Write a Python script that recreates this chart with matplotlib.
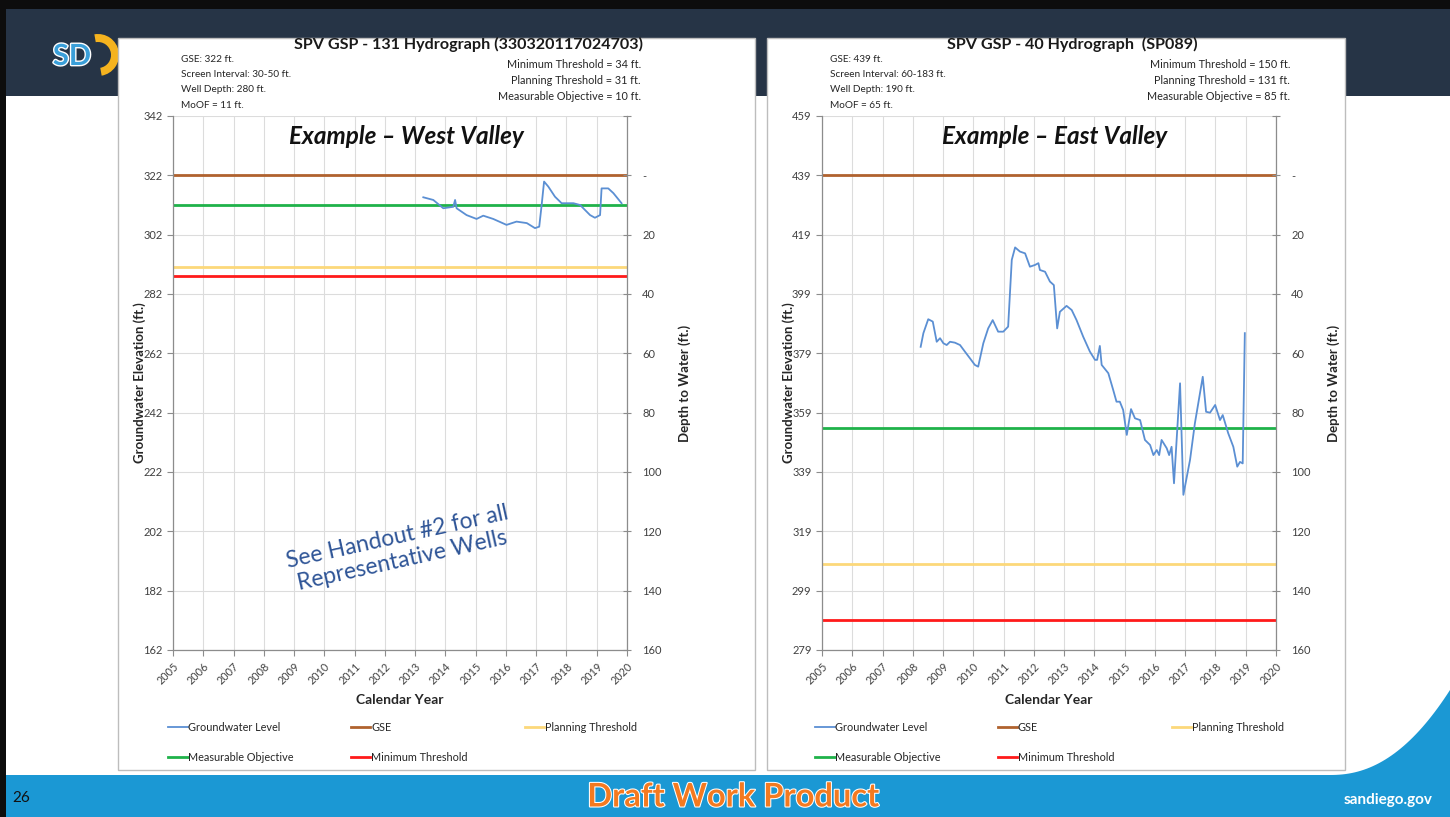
import matplotlib
matplotlib.use("Agg")
import matplotlib.pyplot as plt
from matplotlib.patches import Rectangle, Wedge, Polygon
import matplotlib.patheffects as pe
import numpy as np

plt.rcParams['font.family'] = ['Lato', 'DejaVu Sans']

# ---------------- DATA ----------------
years = list(range(2005, 2021))

# West Valley (SPV GSP - 131)
west_title = "SPV GSP - 131 Hydrograph (330320117024703)"
west_info_left = ["GSE: 322 ft.", "Screen Interval: 30-50 ft.", "Well Depth: 280 ft.", "MoOF = 11 ft."]
west_info_right = ["Minimum Threshold = 34 ft.", "Planning Threshold = 31 ft.", "Measurable Objective = 10 ft."]
west_gse = 322
west_mo = 312
west_pt = 291
west_mt = 288
west_ylim = (162, 342)
west_t = [2013.27, 2013.60, 2013.93, 2014.26, 2014.32, 2014.37, 2014.70, 2015.03, 2015.25,
          2015.58, 2016.02, 2016.35, 2016.69, 2016.96, 2017.10, 2017.18, 2017.26, 2017.40,
          2017.62, 2017.84, 2018.23, 2018.45, 2018.78, 2018.94, 2019.11, 2019.16, 2019.38,
          2019.55, 2019.82]
west_gw = [314.6, 313.7, 310.9, 311.4, 313.7, 310.9, 308.6, 307.3, 308.4,
           307.3, 305.3, 306.4, 305.9, 304.2, 304.7, 312.0, 319.9, 318.2,
           314.8, 312.6, 312.6, 312.0, 308.6, 307.7, 308.6, 317.6, 317.6,
           316.0, 312.6]

# East Valley (SPV GSP - 40)
east_title = "SPV GSP - 40 Hydrograph  (SP089)"
east_info_left = ["GSE: 439 ft.", "Screen Interval: 60-183 ft.", "Well Depth: 190 ft.", "MoOF = 65 ft."]
east_info_right = ["Minimum Threshold = 150 ft.", "Planning Threshold = 131 ft.", "Measurable Objective = 85 ft."]
east_gse = 439
east_mo = 354
east_pt = 308
east_mt = 289
east_ylim = (279, 459)
east_t = [2008.26, 2008.35, 2008.51, 2008.66, 2008.79, 2008.90, 2009.01, 2009.12, 2009.23,
          2009.39, 2009.56, 2009.72, 2009.89, 2010.05, 2010.16, 2010.33, 2010.49, 2010.64,
          2010.82, 2010.99, 2011.15, 2011.27, 2011.38, 2011.54, 2011.71, 2011.87, 2012.04,
          2012.15, 2012.20, 2012.37, 2012.53, 2012.66, 2012.77, 2012.86, 2013.08, 2013.25,
          2013.41, 2013.63, 2013.85, 2014.02, 2014.09, 2014.18, 2014.24, 2014.46, 2014.62,
          2014.73, 2014.84, 2014.95, 2015.07, 2015.21, 2015.34, 2015.51, 2015.67, 2015.84,
          2015.95, 2016.06, 2016.14, 2016.22, 2016.39, 2016.47, 2016.55, 2016.63, 2016.83,
          2016.94, 2017.16, 2017.32, 2017.58, 2017.69, 2017.82, 2017.99, 2018.15, 2018.24,
          2018.42, 2018.59, 2018.72, 2018.81, 2018.90, 2018.97]
east_gw = [381.2, 385.8, 390.5, 389.7, 382.9, 384.1, 382.4, 381.8, 382.9,
           382.6, 381.8, 379.6, 377.3, 375.1, 374.5, 382.4, 387.4, 390.2,
           386.3, 386.3, 388.0, 410.5, 414.7, 413.3, 412.7, 408.2, 408.8,
           409.4, 407.1, 406.5, 403.2, 402.0, 387.4, 393.0, 395.0, 393.6,
           390.2, 384.6, 379.6, 376.8, 376.8, 381.5, 375.1, 372.3, 366.7,
           362.7, 362.7, 359.9, 351.5, 360.2, 357.1, 356.5, 349.8, 348.1,
           344.7, 346.4, 344.7, 349.8, 347.0, 344.7, 347.5, 335.2, 368.9,
           331.3, 343.1, 355.4, 371.1, 359.3, 359.0, 361.6, 356.5, 358.2,
           352.1, 347.5, 340.8, 342.4, 341.9, 385.8]

depth_ticks = [-20, 0, 20, 40, 60, 80, 100, 120, 140, 160]
depth_labels = ["", "-", "20", "40", "60", "80", "100", "120", "140", "160"]

legend_labels = ["Groundwater Level", "GSE", "Planning Threshold", "Measurable Objective", "Minimum Threshold"]

# ---------------- STYLE ----------------
W, H = 1450, 817
def fx(x): return x / W
def fy(y): return 1 - y / H

C_GW = "#5b8fd3"
C_GSE = "#b0622e"
C_PT = "#fcd87a"
C_MO = "#1fb24a"
C_MT = "#ff1a1a"
C_GRID = "#dcdcdc"
C_AX = "#8c8c8c"

fig = plt.figure(figsize=(14.5, 8.17), dpi=100)
fig.patch.set_facecolor("white")

def frect(x0, y0, x1, y1, **kw):
    r = Rectangle((fx(x0), fy(y1)), (x1 - x0) / W, (y1 - y0) / H, transform=fig.transFigure, **kw)
    fig.patches.append(r)
    return r

# slide decorations
frect(0, 0, 1450, 9, facecolor="#0d0d0d", edgecolor="none", zorder=0)
frect(0, 0, 6, 817, facecolor="#0d0d0d", edgecolor="none", zorder=0)
frect(6, 9, 1450, 96, facecolor="#263446", edgecolor="none", zorder=0)
frect(6, 775, 1450, 817, facecolor="#1b98d4", edgecolor="none", zorder=0)
# swoosh bottom right
sx = np.linspace(1330, 1450, 40)
sy = 775 - ((sx - 1330) / 120.0) ** 2.2 * 85
pts = [(fx(a), fy(b)) for a, b in zip(sx, sy)] + [(fx(1450), fy(775))]
fig.patches.append(Polygon(pts, closed=True, transform=fig.transFigure,
                           facecolor="#1b98d4", edgecolor="none", zorder=0))

# logo
fig.text(fx(72), fy(57), "SD", fontsize=21, fontweight="bold", color="#3a9fd9",
         ha="center", va="center",
         path_effects=[pe.withStroke(linewidth=2, foreground="white")], zorder=2)
fig.patches.append(Wedge((0.98, (817 - 55) / 100.0), 0.21, -80, 100, width=0.08,
                         transform=fig.dpi_scale_trans, facecolor="#f5b31f", edgecolor="none", zorder=0.5))

# panels
frect(118, 38, 755, 770, facecolor="white", edgecolor="#bdbdbd", linewidth=1.0, zorder=1)
frect(767, 38, 1345, 770, facecolor="white", edgecolor="#bdbdbd", linewidth=1.0, zorder=1)

# footer texts
fig.text(fx(12), fy(798), "26", fontsize=11, color="#111111", ha="left", va="center")
fig.text(fx(733), fy(797), "Draft Work Product", fontsize=23.5, fontweight="bold", color="#f47a20",
         ha="center", va="center", path_effects=[pe.withStroke(linewidth=1.5, foreground="white")])
fig.text(fx(1432), fy(800), "sandiego.gov", fontsize=11, fontweight="bold", color="white",
         ha="right", va="center")


def draw_chart(axx0, axx1, title, title_x, info_l, info_l_x, info_r, info_r_x, example,
               ex_x, ylim, gse, mo, pt, mt, t, gw, legx):
    ax = fig.add_axes([fx(axx0), fy(650), (axx1 - axx0) / W, (650 - 116) / H])
    ax.set_zorder(3)
    ax.set_facecolor("none")
    ax.set_xlim(2005, 2020)
    ax.set_ylim(*ylim)
    yt = list(range(ylim[0], ylim[1] + 1, 20))
    ax.set_yticks(yt)
    ax.set_yticklabels([str(v) for v in yt], fontsize=8, color="#404040")
    ax.set_xticks(years)
    ax.set_xticklabels([str(y) for y in years], fontsize=7.8, rotation=45, ha="right",
                       rotation_mode="anchor", color="#404040")
    ax.grid(True, color=C_GRID, linewidth=0.8)
    ax.set_axisbelow(True)
    for s in ["top", "right"]:
        ax.spines[s].set_visible(False)
    for s in ["left", "bottom"]:
        ax.spines[s].set_color(C_AX)
        ax.spines[s].set_linewidth(0.9)
    ax.tick_params(axis="both", color=C_AX, length=4, width=0.8)

    h_gse = ax.axhline(gse, color=C_GSE, linewidth=2.0, zorder=2)
    h_mo = ax.axhline(mo, color=C_MO, linewidth=2.0, zorder=2)
    h_pt = ax.axhline(pt, color=C_PT, linewidth=2.0, zorder=2)
    h_mt = ax.axhline(mt, color=C_MT, linewidth=2.0, zorder=2)
    h_gw, = ax.plot(t, gw, color=C_GW, linewidth=1.3, zorder=3)

    ax.set_ylabel("Groundwater Elevation (ft.)", fontsize=9.5, fontweight="bold", color="#262626",
                  labelpad=-2)
    ax.set_xlabel("Calendar Year", fontsize=10, fontweight="bold", color="#262626", labelpad=6)

    ax2 = ax.twinx()
    ax2.set_ylim(gse - ylim[0], gse - ylim[1])
    ax2.set_yticks(depth_ticks)
    ax2.set_yticklabels(depth_labels, fontsize=8, color="#404040")
    for s in ["top", "left", "bottom"]:
        ax2.spines[s].set_visible(False)
    ax2.spines["right"].set_color(C_AX)
    ax2.spines["right"].set_linewidth(0.9)
    ax2.tick_params(axis="y", color=C_AX, length=6, width=0.8, direction="inout", pad=8)
    ax2.set_ylabel("Depth to Water (ft.)", fontsize=9.5, fontweight="bold", color="#262626",
                   labelpad=12)

    # header texts
    fig.text(fx(title_x), fy(44), title, fontsize=11.6, fontweight="bold", color="#1a1a1a",
             ha="center", va="center", zorder=5)
    for i, s in enumerate(info_l):
        fig.text(fx(info_l_x), fy(59 + i * 15.5), s, fontsize=7.2, color="#262626",
                 ha="left", va="center", zorder=5)
    for i, s in enumerate(info_r):
        fig.text(fx(info_r_x), fy(65 + i * 15.5), s, fontsize=7.8, color="#262626",
                 ha="right", va="center", zorder=5)
    fig.text(fx(ex_x), fy(137), example, fontsize=17.5, fontweight="bold", fontstyle="italic",
             color="#111111", ha="center", va="center", zorder=5)

    handles = [h_gw, h_mo, h_gse, h_mt, h_pt]
    labels = [legend_labels[0], legend_labels[3], legend_labels[1], legend_labels[4], legend_labels[2]]
    leg = fig.legend(handles, labels, loc="upper left", bbox_to_anchor=(fx(legx), fy(722)),
                     ncol=3, frameon=False, fontsize=7.8, handlelength=1.8, handletextpad=0.05,
                     labelspacing=1.75, columnspacing=5.3, borderaxespad=0, borderpad=0)
    for txt in leg.get_texts():
        txt.set_color("#262626")
    return ax


axL = draw_chart(173, 627, west_title, 468, west_info_left, 181, west_info_right, 641,
                 "Example \u2013 West Valley", 406, west_ylim, west_gse, west_mo, west_pt, west_mt,
                 west_t, west_gw, 168)
axR = draw_chart(822, 1276, east_title, 1072, east_info_left, 830, east_info_right, 1290,
                 "Example \u2013 East Valley", 1055, east_ylim, east_gse, east_mo, east_pt, east_mt,
                 east_t, east_gw, 815)

axL.text(0.5, 0.19, "See Handout #2 for all\nRepresentative Wells", transform=axL.transAxes,
         fontsize=16.5, color="#2f5597", rotation=12.5, ha="center", va="center",
         linespacing=1.2, zorder=6)

fig.savefig("out.png", dpi=100)
